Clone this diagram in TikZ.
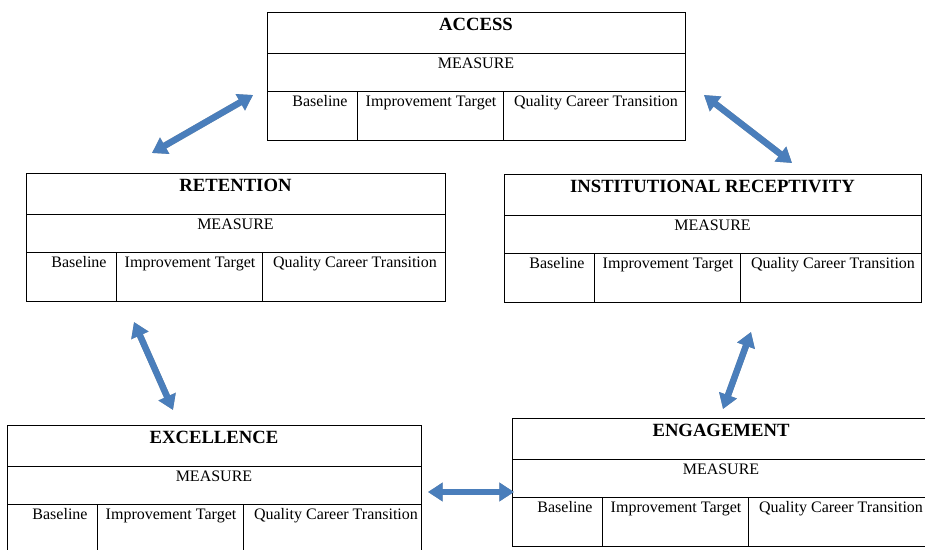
\documentclass[tikz,border=0pt]{standalone}
\usepackage{fontspec}
\setmainfont{Liberation Serif}
\usetikzlibrary{arrows.meta}
\definecolor{arrblue}{HTML}{4A7EBB}
\definecolor{arrshadow}{HTML}{A6A6A6}
\tikzset{
  boxframe/.style={draw=black, line width=0.7pt, minimum height=128*0.75pt, inner sep=0pt, anchor=north west},
  rulel/.style={draw=black, line width=0.7pt},
  titletxt/.style={font=\fontsize{14}{16}\selectfont\bfseries, anchor=base, inner sep=0pt},
  celltxt/.style={font=\fontsize{12}{14}\selectfont, anchor=base, inner sep=0pt},
  dblarrow/.style={draw=arrblue, line width=4.8pt, {Triangle[width=13.5pt,length=11pt]}-{Triangle[width=13.5pt,length=11pt]}},
  dblshadow/.style={draw=arrshadow, line width=4.8pt, {Triangle[width=13.5pt,length=11pt]}-{Triangle[width=13.5pt,length=11pt]}, shift={(1.8,1.8)}}
}
% #1 name, #2 left, #3 top, #4 width, #5 title
\newcommand\measurebox[5]{%
  \begin{scope}[shift={(#2,#3)}]
    \node[boxframe, minimum width=#4*0.75pt] (#1) at (0,0) {};
    \draw[rulel] (0,41) -- (#4,41);
    \draw[rulel] (0,79) -- (#4,79);
    \draw[rulel] (90,79) -- (90,128);
    \draw[rulel] (236,79) -- (236,128);
    \node[titletxt] (#1-title) at (#4/2,18.5) {#5};
    \node[celltxt] (#1-measure) at (#4/2,56.5) {MEASURE};
    \node[celltxt] (#1-base) at (53,94.5) {Baseline};
    \node[celltxt] (#1-impr) at (164,94.5) {Improvement Target};
    \node[celltxt] (#1-qual) at (329,94.5) {Quality Career Transition};
  \end{scope}}
\begin{document}
\begin{tikzpicture}[x=0.75pt,y=-0.75pt]
\useasboundingbox (0,0) rectangle (925,550);
\begin{scope}
\clip (0,0) rectangle (925,550);
\measurebox{acc}{267}{12}{418}{ACCESS}
\measurebox{ret}{26}{173}{419}{RETENTION}
\measurebox{inst}{504}{174}{417}{INSTITUTIONAL RECEPTIVITY}
\measurebox{exc}{7}{425}{414}{EXCELLENCE}
\measurebox{eng}{512}{418}{418}{ENGAGEMENT}

% arrow end points
\coordinate (a1s) at (152,153); \coordinate (a1e) at (253,95);
\coordinate (a2s) at (704,95);  \coordinate (a2e) at (792,163);
\coordinate (a3s) at (134,322); \coordinate (a3e) at (173,410);
\coordinate (a4s) at (751,332); \coordinate (a4e) at (723,409);
\coordinate (a5s) at (428,492); \coordinate (a5e) at (514,492);

\foreach \s/\e in {a1s/a1e,a2s/a2e,a3s/a3e,a4s/a4e,a5s/a5e}{
  \draw[dblshadow] (\s) -- (\e);
  \draw[dblarrow] (\s) -- (\e);
}
\end{scope}
\end{tikzpicture}
\end{document}
